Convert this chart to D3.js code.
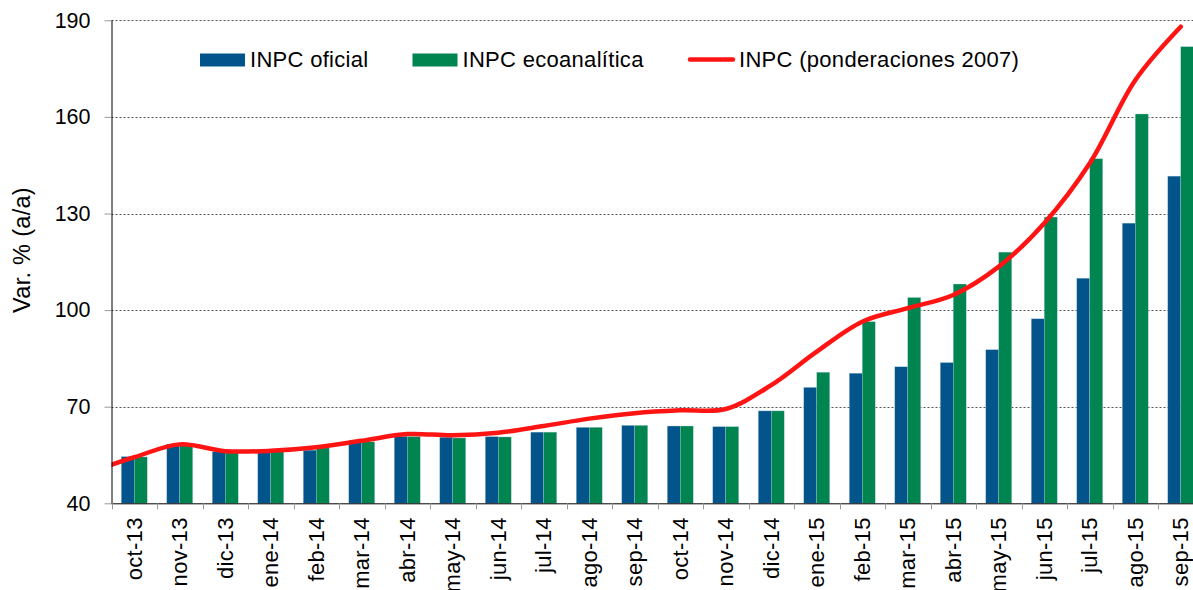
<!DOCTYPE html>
<html>
<head>
<meta charset="utf-8">
<script src="https://cdn.jsdelivr.net/npm/d3@7"></script>
<style>
  body { margin: 0; background: #fff; }
  svg { display: block; font-family: "Liberation Sans", Arial, sans-serif; }
  .grid line { stroke: #555; stroke-dasharray: 2,2; }
</style>
</head>
<body>
<svg id="svg" width="1193" height="590"></svg>
<script>
// Months on the x axis
const months = ["oct-13", "nov-13", "dic-13", "ene-14", "feb-14", "mar-14", "abr-14", "may-14",
  "jun-14", "jul-14", "ago-14", "sep-14", "oct-14", "nov-14", "dic-14", "ene-15", "feb-15",
  "mar-15", "abr-15", "may-15", "jun-15", "jul-15", "ago-15", "sep-15"];

// Bars
const oficial = [54.5, 58.4, 56.0, 55.8, 56.5, 59.4, 60.8, 60.5, 60.7, 62.1, 63.6, 64.2,
  64.0, 63.8, 68.7, 76.0, 80.4, 82.4, 83.7, 87.7, 97.3, 109.9, 127.0, 141.6];
const ecoanalitica = [54.4, 58.1, 56.0, 56.0, 57.2, 59.1, 60.7, 60.3, 60.6, 62.1, 63.6, 64.2,
  64.0, 63.8, 68.7, 80.7, 96.4, 103.9, 108.1, 118.0, 128.9, 147.0, 160.9, 181.8];

// Line (starts one month earlier, cut at the axis)
const lineMonths = ["sep-13"].concat(months);
const ponderaciones = [49.6, 54.3, 58.3, 56.2, 56.3, 57.4, 59.4, 61.5, 61.1, 61.9, 64.0, 66.3,
  68.0, 68.9, 69.3, 76.7, 87.1, 96.4, 100.6, 104.7, 113.5, 127.0, 145.6, 171.4, 188.0];

const yTicks = [40, 70, 100, 130, 160, 190];

const series = [
  {key: "oficial", name: "INPC oficial", values: oficial, color: "#02548A"},
  {key: "eco", name: "INPC ecoanalítica", values: ecoanalitica, color: "#008450"}
];
const lineColor = "#FF1414";

const attr = {
  left: 111.5,
  top: 20.3,
  bottom: 503.3,
  step: 45.5
};

const svg = d3.select("svg#svg");

const x = d3.scaleBand()
  .domain(months)
  .range([attr.left, attr.left + attr.step * months.length])
  .paddingInner(0.43)
  .paddingOuter(0.215);

const x1 = d3.scaleBand()
  .domain(series.map(s => s.key))
  .range([0, x.bandwidth()]);

const y = d3.scaleLinear().domain([40, 190]).range([attr.bottom, attr.top]);

// gridlines
svg.append("g")
  .attr("class", "grid")
  .selectAll("line")
  .data(yTicks.filter(d => d > 40))
  .enter()
  .append("line")
  .attr("x1", attr.left)
  .attr("x2", 1193)
  .attr("y1", d => Math.round(y(d)) + 0.5)
  .attr("y2", d => Math.round(y(d)) + 0.5);

// bars
const rows = months.map((m, i) => ({month: m, vals: series.map(s => ({key: s.key, v: s.values[i], color: s.color}))}));

svg.append("g")
  .selectAll("g")
  .data(rows)
  .enter()
  .append("g")
  .attr("transform", d => "translate(" + x(d.month) + ",0)")
  .selectAll("rect")
  .data(d => d.vals)
  .enter()
  .append("rect")
  .attr("x", d => x1(d.key))
  .attr("y", d => y(d.v))
  .attr("width", x1.bandwidth())
  .attr("height", d => attr.bottom - y(d.v))
  .attr("fill", d => d.color)
  .attr("stroke", "#a9c9d6")
  .attr("stroke-width", 0.5)
  .attr("stroke-opacity", 0.7);

// line
svg.append("clipPath")
  .attr("id", "plotClip")
  .append("rect")
  .attr("x", attr.left)
  .attr("y", 0)
  .attr("width", 1193)
  .attr("height", 590);

const xLine = d3.scalePoint()
  .domain(lineMonths)
  .range([x(months[0]) + x.bandwidth() / 2 - attr.step, x(months[months.length - 1]) + x.bandwidth() / 2]);

const line = d3.line()
  .x((d, i) => xLine(lineMonths[i]))
  .y(d => y(d))
  .curve(d3.curveCatmullRom.alpha(0.5));

svg.append("path")
  .datum(ponderaciones)
  .attr("clip-path", "url(#plotClip)")
  .attr("d", line)
  .attr("fill", "none")
  .attr("stroke", lineColor)
  .attr("stroke-width", 4.5)
  .attr("stroke-linecap", "round");

// y axis
const yAxis = svg.append("g")
  .attr("transform", "translate(" + attr.left + ",0)")
  .call(d3.axisLeft(y).tickValues(yTicks).tickSize(7).tickPadding(14).tickSizeOuter(0));
yAxis.select(".domain").attr("stroke", "#000").attr("d", "M0.5," + attr.top + "V" + attr.bottom);
yAxis.selectAll(".tick line").attr("stroke", "#999");
yAxis.selectAll(".tick text")
  .attr("fill", "#000")
  .style("font-size", "21.5px")
  .style("font-family", "Liberation Sans, Arial, sans-serif");

// x axis
const xAxis = svg.append("g")
  .attr("transform", "translate(0," + attr.bottom + ")");
xAxis.append("line")
  .attr("x1", attr.left)
  .attr("x2", 1193)
  .attr("y1", 0.5)
  .attr("y2", 0.5)
  .attr("stroke", "#000");
xAxis.selectAll("line.sep")
  .data(d3.range(months.length + 1))
  .enter()
  .append("line")
  .attr("class", "sep")
  .attr("x1", i => Math.round(attr.left + i * attr.step) + 0.5)
  .attr("x2", i => Math.round(attr.left + i * attr.step) + 0.5)
  .attr("y1", 0)
  .attr("y2", 6)
  .attr("stroke", "#999");
xAxis.selectAll("text")
  .data(months)
  .enter()
  .append("text")
  .attr("transform", d => "translate(" + (x(d) + x.bandwidth() / 2) + ",14) rotate(-90)")
  .attr("text-anchor", "end")
  .attr("dy", "0.35em")
  .style("font-size", "22px")
  .style("letter-spacing", "0.3px")
  .text(d => d);

// y label
svg.append("text")
  .attr("transform", "translate(30,250) rotate(-90)")
  .attr("text-anchor", "middle")
  .style("font-size", "23.5px")
  .style("letter-spacing", "0.3px")
  .text("Var. % (a/a)");

// legend
const legend = svg.append("g");
const legendItems = [
  {name: series[0].name, color: series[0].color, type: "rect", x: 200},
  {name: series[1].name, color: series[1].color, type: "rect", x: 412.5},
  {name: "INPC (ponderaciones 2007)", color: lineColor, type: "line", x: 688}
];
const li = legend.selectAll("g")
  .data(legendItems)
  .enter()
  .append("g")
  .attr("transform", d => "translate(" + d.x + ",0)");
li.filter(d => d.type === "rect").append("rect")
  .attr("y", 53.5)
  .attr("width", 45)
  .attr("height", 13)
  .attr("fill", d => d.color);
li.filter(d => d.type === "line").append("line")
  .attr("x1", 2)
  .attr("x2", 45)
  .attr("y1", 59.5)
  .attr("y2", 59.5)
  .attr("stroke", d => d.color)
  .attr("stroke-width", 4.5)
  .attr("stroke-linecap", "round");
li.append("text")
  .attr("x", d => d.type === "line" ? 51 : 50)
  .attr("y", 67)
  .style("font-size", "22px")
  .style("letter-spacing", "0.3px")
  .text(d => d.name);
</script>
</body>
</html>
